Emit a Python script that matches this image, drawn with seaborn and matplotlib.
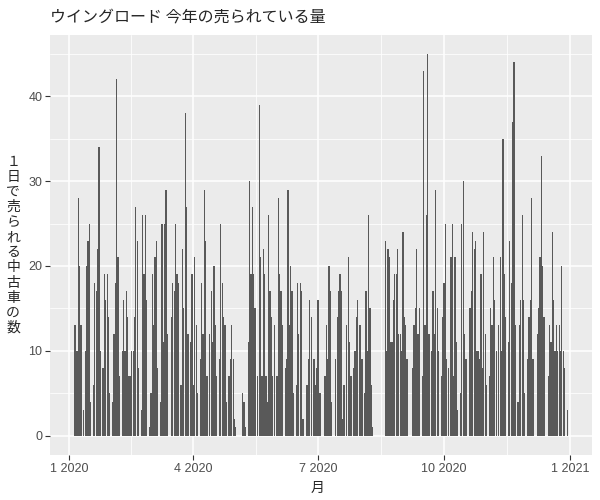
import pandas as pd
import matplotlib
matplotlib.use("Agg")
import matplotlib.pyplot as plt
import seaborn as sns

# daily counts of cars sold, one list per month (0 = none sold that day)
jan = [0, 0, 0, 0, 13, 13, 10, 28, 20, 13, 0, 3, 10, 20, 23, 25, 4, 0, 6, 18,
       17, 22, 34, 10, 0, 8, 19, 16, 19, 14, 5]
feb = [0, 4, 12, 18, 42, 21, 7, 0, 10, 16, 10, 17, 14, 7, 7, 10, 10, 14, 27, 23,
       8, 0, 3, 26, 19, 26, 16, 0, 1]
mar = [5, 19, 13, 21, 23, 8, 0, 4, 25, 11, 25, 29, 12, 0, 0, 14, 18, 17, 25, 19,
       18, 0, 6, 22, 15, 38, 27, 12, 0, 11, 19]
apr = [6, 21, 13, 5, 0, 9, 18, 12, 29, 23, 7, 0, 12, 17, 11, 20, 13, 7, 0, 9,
       25, 18, 14, 13, 4, 0, 7, 9, 13, 9]
may = [2, 1, 0, 0, 0, 0, 5, 4, 1, 0, 11, 30, 19, 27, 19, 15, 0, 7, 39, 21,
       7, 22, 19, 7, 4, 26, 17, 14, 7, 13, 0]
jun = [7, 28, 19, 17, 13, 0, 8, 9, 29, 13, 20, 17, 5, 0, 6, 18, 12, 18, 17, 2,
       0, 0, 6, 9, 16, 14, 0, 9, 6, 8]
jul = [16, 5, 5, 0, 0, 7, 13, 9, 20, 17, 4, 0, 0, 9, 14, 17, 19, 17, 2, 6,
       0, 13, 21, 11, 7, 0, 8, 10, 14, 16, 13]
aug = [13, 9, 0, 5, 17, 10, 26, 15, 6, 1, 0, 0, 0, 0, 0, 0, 0, 0, 23, 10,
       22, 21, 11, 11, 16, 19, 19, 22, 12, 12, 10]
sep = [24, 14, 13, 9, 0, 0, 0, 8, 13, 15, 22, 12, 15, 0, 7, 43, 13, 26, 45, 12,
       0, 10, 17, 12, 29, 15, 10, 0, 7, 14]
oct_ = [18, 25, 9, 8, 0, 21, 25, 7, 21, 11, 3, 0, 5, 25, 30, 12, 9, 0, 0, 15,
        17, 24, 22, 23, 10, 10, 9, 19, 8, 24, 12]
nov = [6, 0, 7, 15, 13, 21, 16, 10, 0, 13, 21, 10, 35, 19, 14, 0, 11, 23, 18, 37,
       44, 13, 0, 4, 13, 16, 26, 16, 5, 0]
dec = [9, 14, 16, 28, 9, 0, 0, 12, 15, 21, 33, 20, 14, 0, 0, 7, 13, 11, 24, 16,
       10, 13, 10, 13, 10, 20, 10, 8, 0, 3, 0]

tick_dates = ["2020-01-01", "2020-04-01", "2020-07-01", "2020-10-01", "2021-01-01"]
tick_labels = ["1 2020", "4 2020", "7 2020", "10 2020", "1 2021"]

counts = jan + feb + mar + apr + may + jun + jul + aug + sep + oct_ + nov + dec
start = pd.Timestamp("2020-01-01")
df = pd.DataFrame({"date": pd.date_range(start, periods=len(counts), freq="D"),
                   "count": counts})
df = df[df["count"] > 0].copy()
df["day"] = (df["date"] - start).dt.days

major = [(pd.Timestamp(d) - start).days for d in tick_dates]
minor = [(a + b) / 2 for a, b in zip(major[:-1], major[1:])]

sns.set_theme(style="darkgrid", rc={"axes.facecolor": "#EBEBEB",
                                    "grid.color": "white"})
plt.rcParams["font.family"] = ["Liberation Sans", "Noto Sans CJK JP", "DejaVu Sans"]
jp = ["Noto Sans CJK JP", "DejaVu Sans"]

fig = plt.figure(figsize=(6, 5), dpi=100)
ax = fig.add_axes([50 / 600, 45 / 500, 542 / 600, 420.5 / 500])

sns.barplot(data=df, x="day", y="count", native_scale=True, width=0.9,
            color="#595959", saturation=1, errorbar=None, linewidth=0, ax=ax)

ax.set_xlim(-13.7, 382)
ax.set_ylim(-2.25, 47.25)
ax.set_xticks(major)
ax.set_xticklabels(tick_labels)
ax.set_xticks(minor, minor=True)
ax.set_yticks([0, 10, 20, 30, 40])
ax.set_yticks([5, 15, 25, 35, 45], minor=True)
ax.grid(which="major", color="white", linewidth=1.1)
ax.grid(which="minor", color="white", linewidth=0.55)
ax.set_axisbelow(True)
for s in ax.spines.values():
    s.set_visible(False)
ax.tick_params(which="major", length=3.5, width=0.8, color="#333333",
               labelcolor="#4D4D4D", labelsize=9, pad=2, bottom=True, left=True)
ax.tick_params(which="minor", length=0)

ax.set_xlabel("")
ax.set_ylabel("１\n日\nで\n売\nら\nれ\nる\n中\n古\n車\nの\n数", rotation=0,
              fontsize=10, family=jp, linespacing=1.1, va="center", ha="center")
ax.yaxis.set_label_coords(-0.068, 0.5)
fig.text(318 / 600, 1 - 488 / 500, "月", ha="center", va="center",
         fontsize=10, family=jp)
fig.text(50 / 600, 1 - 17 / 500, "ウイングロード 今年の売られている量",
         ha="left", va="center", fontsize=11.5, family=jp)

fig.savefig("out.png", dpi=100)
